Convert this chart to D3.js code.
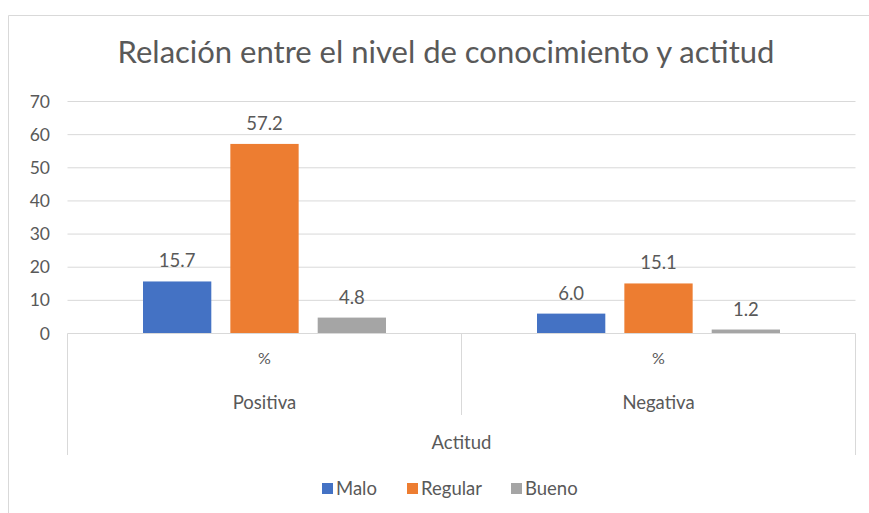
<!DOCTYPE html>
<html><head><meta charset="utf-8">
<script src="https://cdn.jsdelivr.net/npm/d3@7"></script>
<style>body{margin:0;background:#fff}svg{display:block}</style>
</head><body>
<svg id="c" width="869" height="513"></svg>
<script>
const categories = ["Positiva", "Negativa"];
const subLabel = ["%", "%"];
const series = ["Malo", "Regular", "Bueno"];
const malo = [15.7, 6.0];
const regular = [57.2, 15.1];
const bueno = [4.8, 1.2];
const yTicks = [0, 10, 20, 30, 40, 50, 60, 70];
const title = "Relación entre el nivel de conocimiento y actitud";
const axisTitle = "Actitud";
const colors = ["#4472c4", "#ed7d31", "#a5a5a5"];

const values = [malo, regular, bueno];
const FONT = "Lato, 'Open Sans', sans-serif";
const TXT = "#595959";
const svg = d3.select("#c");

// outer frame
svg.append("path").attr("d", "M8.5,513 V15.5 H869").attr("fill", "none").attr("stroke", "#d9d9d9");

const left = 67.5, right = 855.5;
const y = d3.scaleLinear().domain([0, 70]).range([333.5, 101.5]);
const x0 = d3.scaleBand().domain(categories).range([left, right]).padding(0);
const x1 = d3.scaleBand().domain(series).range([75.5, 318.5]).paddingInner(0.218).paddingOuter(0);

// title
svg.append("text").attr("x", 446).attr("y", 63).attr("text-anchor", "middle")
  .attr("font-family", FONT).attr("font-size", 31).attr("fill", TXT).text(title);

// gridlines
svg.append("g").selectAll("line").data(yTicks.filter(d => d > 0)).join("line")
  .attr("x1", left).attr("x2", right).attr("y1", d => y(d)).attr("y2", d => y(d))
  .attr("stroke", "#d9d9d9").attr("stroke-width", 1);

// y tick labels
svg.append("g").selectAll("text").data(yTicks).join("text")
  .attr("x", 50).attr("y", d => y(d) + 6).attr("text-anchor", "end")
  .attr("font-family", FONT).attr("font-size", 17.5).attr("fill", TXT).text(d => d);

// bars
const g = svg.append("g");
categories.forEach((c, ci) => {
  series.forEach((s, si) => {
    const v = values[si][ci];
    const bx = x0(c) + x1(s);
    g.append("rect").attr("x", bx).attr("width", x1.bandwidth())
      .attr("y", y(v)).attr("height", y(0) - y(v)).attr("fill", colors[si]);
    g.append("text").attr("x", bx + x1.bandwidth() / 2).attr("y", y(v) - 14)
      .attr("text-anchor", "middle").attr("font-family", FONT).attr("font-size", 18.5)
      .attr("fill", TXT).text(v.toFixed(1));
  });
});

// category axis lines
const ax = svg.append("g").attr("stroke", "#d9d9d9").attr("fill", "none");
ax.append("line").attr("x1", left).attr("x2", right).attr("y1", y(0)).attr("y2", y(0));
ax.append("line").attr("x1", left).attr("x2", left).attr("y1", y(0)).attr("y2", 455);
ax.append("line").attr("x1", right).attr("x2", right).attr("y1", y(0)).attr("y2", 455);
ax.append("line").attr("x1", x0(categories[1])).attr("x2", x0(categories[1])).attr("y1", y(0)).attr("y2", 415);

const axT = svg.append("g").attr("font-family", FONT).attr("fill", TXT).attr("text-anchor", "middle");
categories.forEach((c, ci) => {
  const cx = x0(c) + x0.bandwidth() / 2;
  axT.append("text").attr("x", cx).attr("y", 364).attr("font-size", 16).text(subLabel[ci]);
  axT.append("text").attr("x", cx).attr("y", 409).attr("font-size", 18.5).text(c);
});
axT.append("text").attr("x", (left + right) / 2).attr("y", 449).attr("font-size", 18.5).text(axisTitle);

// legend
const legend = svg.append("g").attr("font-family", FONT).attr("font-size", 18.5).attr("fill", TXT);
const lx = [322, 407, 511];
series.forEach((s, i) => {
  legend.append("rect").attr("x", lx[i]).attr("y", 483).attr("width", 11).attr("height", 11).attr("fill", colors[i]);
  legend.append("text").attr("x", lx[i] + 14).attr("y", 495).text(s);
});
</script>
</body></html>
